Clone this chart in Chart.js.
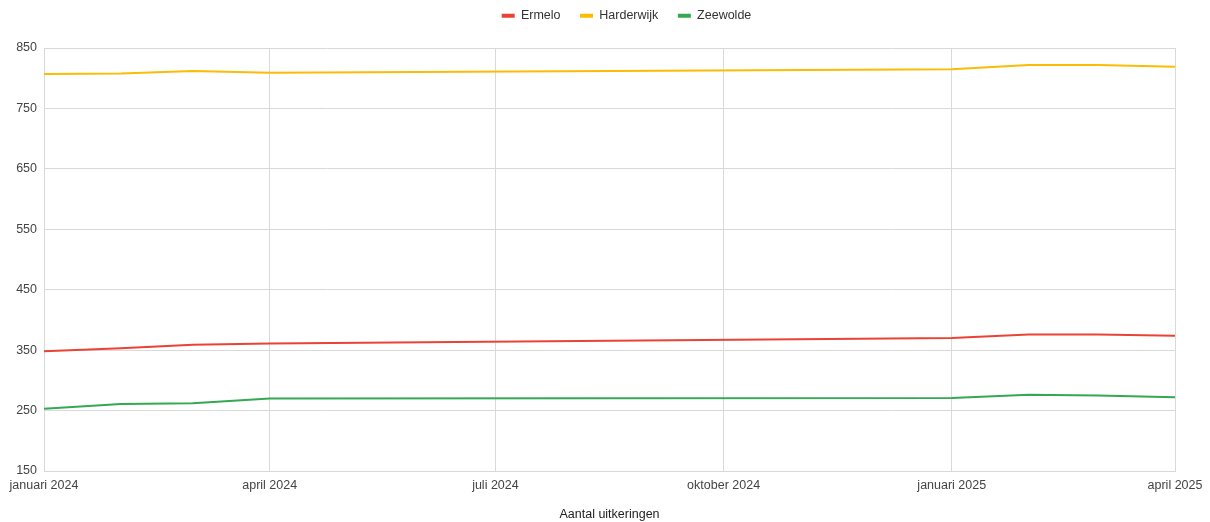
<!DOCTYPE html>
<html>
<head>
<meta charset="utf-8">
<script src="https://cdn.jsdelivr.net/npm/chart.js@4.4.1/dist/chart.umd.min.js"></script>
<style>
  html, body { margin: 0; padding: 0; background: #fff; }
  #wrap { width: 1210px; height: 522px; }
</style>
</head>
<body>
<div id="wrap"><canvas id="uitkeringenChart"></canvas></div>
<script>
const dates = ['2024-01-01', '2024-02-01', '2024-03-01', '2024-04-01', '2025-01-01', '2025-02-01', '2025-03-01', '2025-04-01'];
const ermelo = [348, 353, 359, 361, 370, 376, 376, 374];
const harderwijk = [807, 808, 812, 809, 815, 822, 822, 819];
const zeewolde = [253, 261, 262, 270, 271, 276, 275, 272];

// Axis ticks
const tickDates = ['2024-01-01', '2024-04-01', '2024-07-01', '2024-10-01', '2025-01-01', '2025-04-01'];
const tickLabels = ['januari 2024', 'april 2024', 'juli 2024', 'oktober 2024', 'januari 2025', 'april 2025'];
const yTicks = [150, 250, 350, 450, 550, 650, 750, 850];

// days since 1 jan 2024, so the x axis keeps real time spacing
function dayNr(d) {
    const p = d.split('-').map(Number);
    return (Date.UTC(p[0], p[1] - 1, p[2]) - Date.UTC(2024, 0, 1)) / 86400000;
}

function toPoints(values) {
    return values.map((v, i) => ({ x: dayNr(dates[i]), y: v }));
}

const tickDays = tickDates.map(dayNr);

// Legend: fixed height and moved a bit, like the original
const legendPlace = {
    id: 'legendPlace',
    beforeInit(chart) {
        const legend = chart.legend;
        if (!legend) return;
        const fit = legend.fit;
        legend.fit = function () {
            fit.call(this);
            this.height = 48;
        };
    },
    afterLayout(chart) {
        const l = chart.legend;
        if (!l) return;
        l.left += 39; l.right += 39;
        l.top -= 10; l.bottom -= 10;
    }
};

function initializeChart() {
    const gridColor = '#d9d9d9';
    const textColor = '#444';
    const font = { family: 'Liberation Sans, Arial', size: 12.5 };

    const config = {
        type: 'line',
        data: {
            datasets: [
                { label: 'Ermelo', data: toPoints(ermelo), borderColor: '#ea4335', backgroundColor: '#ea4335' },
                { label: 'Harderwijk', data: toPoints(harderwijk), borderColor: '#fbbc04', backgroundColor: '#fbbc04' },
                { label: 'Zeewolde', data: toPoints(zeewolde), borderColor: '#34a853', backgroundColor: '#34a853' },
            ]
        },
        options: {
            responsive: true,
            maintainAspectRatio: false,
            animation: false,
            layout: { padding: { top: 0, right: 35, left: 0, bottom: 0 } },
            elements: {
                line: { borderWidth: 2, tension: 0 },
                point: { radius: 0 },
            },
            plugins: {
                legend: {
                    display: true,
                    position: 'top',
                    labels: {
                        boxWidth: 13,
                        boxHeight: 4,
                        padding: 19.5,
                        color: '#333',
                        font: font,
                        generateLabels: function (chart) {
                            const items = Chart.defaults.plugins.legend.labels.generateLabels(chart);
                            items.forEach(it => { it.lineWidth = 0; });
                            return items;
                        },
                    },
                },
                tooltip: { enabled: true },
            },
            scales: {
                x: {
                    type: 'linear',
                    min: 0,
                    max: dayNr('2025-04-01'),
                    afterBuildTicks: function (scale) {
                        scale.ticks = tickDays.map(v => ({ value: v }));
                    },
                    afterFit: function (scale) {
                        scale.height = 51;
                    },
                    ticks: {
                        autoSkip: false,
                        maxRotation: 0,
                        padding: 7,
                        color: textColor,
                        font: font,
                        callback: function (value) {
                            const i = tickDays.indexOf(value);
                            return i === -1 ? '' : tickLabels[i];
                        },
                    },
                    grid: { color: gridColor, drawTicks: false },
                    border: { color: gridColor },
                    title: {
                        display: true,
                        text: 'Aantal uitkeringen',
                        color: '#222',
                        font: font,
                        padding: { top: 10, bottom: 0 },
                    },
                },
                y: {
                    min: 150,
                    max: 850,
                    afterBuildTicks: function (scale) {
                        scale.ticks = yTicks.map(v => ({ value: v }));
                    },
                    afterFit: function (scale) {
                        scale.width = 44;
                    },
                    ticks: {
                        padding: 7,
                        color: textColor,
                        font: font,
                    },
                    grid: { color: gridColor, drawTicks: false },
                    border: { color: gridColor },
                },
            },
        },
        plugins: [legendPlace],
    };

    const ctx = document.getElementById('uitkeringenChart').getContext('2d');
    new Chart(ctx, config);
}

document.addEventListener('DOMContentLoaded', initializeChart);
</script>
</body>
</html>
